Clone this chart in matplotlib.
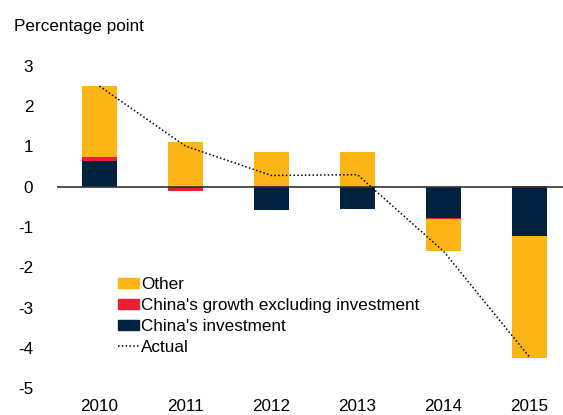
import numpy as np
import matplotlib.pyplot as plt
from matplotlib.patches import Patch
from matplotlib.lines import Line2D

plt.rcParams['font.family'] = ['Liberation Sans', 'DejaVu Sans']
plt.rcParams['font.size'] = 12.3
plt.rcParams['axes.unicode_minus'] = False

years = ['2010', '2011', '2012', '2013', '2014', '2015']
china_inv = [0.65, -0.04, -0.58, -0.55, -0.78, -1.23]
china_excl_inv = [0.08, -0.07, 0.01, -0.01, -0.02, 0.02]
other = [1.77, 1.12, 0.85, 0.86, -0.80, -3.02]
actual = [2.50, 1.01, 0.28, 0.30, -1.60, -4.23]

col_inv = '#00223f'
col_red = '#e8202f'
col_other = '#fbb517'

fig = plt.figure(figsize=(5.63, 4.15), dpi=100)
ax = fig.add_axes([0.101, 0.065, 0.899, 0.776])

x = np.arange(len(years))
w = 0.4
pos_bottom = np.zeros(len(years))
neg_bottom = np.zeros(len(years))
# stack: investment nearest to zero, then red, then other
for vals, col in [(china_inv, col_inv), (china_excl_inv, col_red), (other, col_other)]:
    vals = np.array(vals)
    bottom = np.where(vals >= 0, pos_bottom, neg_bottom)
    ax.bar(x, vals, w, bottom=bottom, color=col, zorder=2)
    pos_bottom = pos_bottom + np.where(vals >= 0, vals, 0)
    neg_bottom = neg_bottom + np.where(vals < 0, vals, 0)

ax.plot(x, actual, color='black', linestyle=(0, (1, 1.5)), linewidth=1.1, zorder=4)
ax.axhline(0, color='#333333', linewidth=1.2, zorder=3)

ax.set_xlim(-0.495, 5.39)
ax.set_ylim(-5, 3)
ax.set_yticks(range(-5, 4))
ax.set_xticks(x)
ax.set_xticklabels(years)
ax.tick_params(length=0)
ax.tick_params(axis='y', pad=17)
ax.tick_params(axis='x', pad=8)
for s in ax.spines.values():
    s.set_visible(False)

fig.text(14 / 563, 1 - 27 / 415, 'Percentage point', ha='left', va='center')

handles = [Patch(color=col_other), Patch(color=col_red), Patch(color=col_inv),
           Line2D([], [], color='black', linestyle=(0, (1, 1.5)), linewidth=1.1)]
labels = ['Other', "China's growth excluding investment", "China's investment", 'Actual']
fig.legend(handles, labels, loc='upper left', bbox_to_anchor=(118 / 563, 1 - 277 / 415),
           frameon=False, borderpad=0, borderaxespad=0, handlelength=1.2, handleheight=0.5,
           handletextpad=0.15, labelspacing=0.35)

fig.savefig('out.png', dpi=100)
